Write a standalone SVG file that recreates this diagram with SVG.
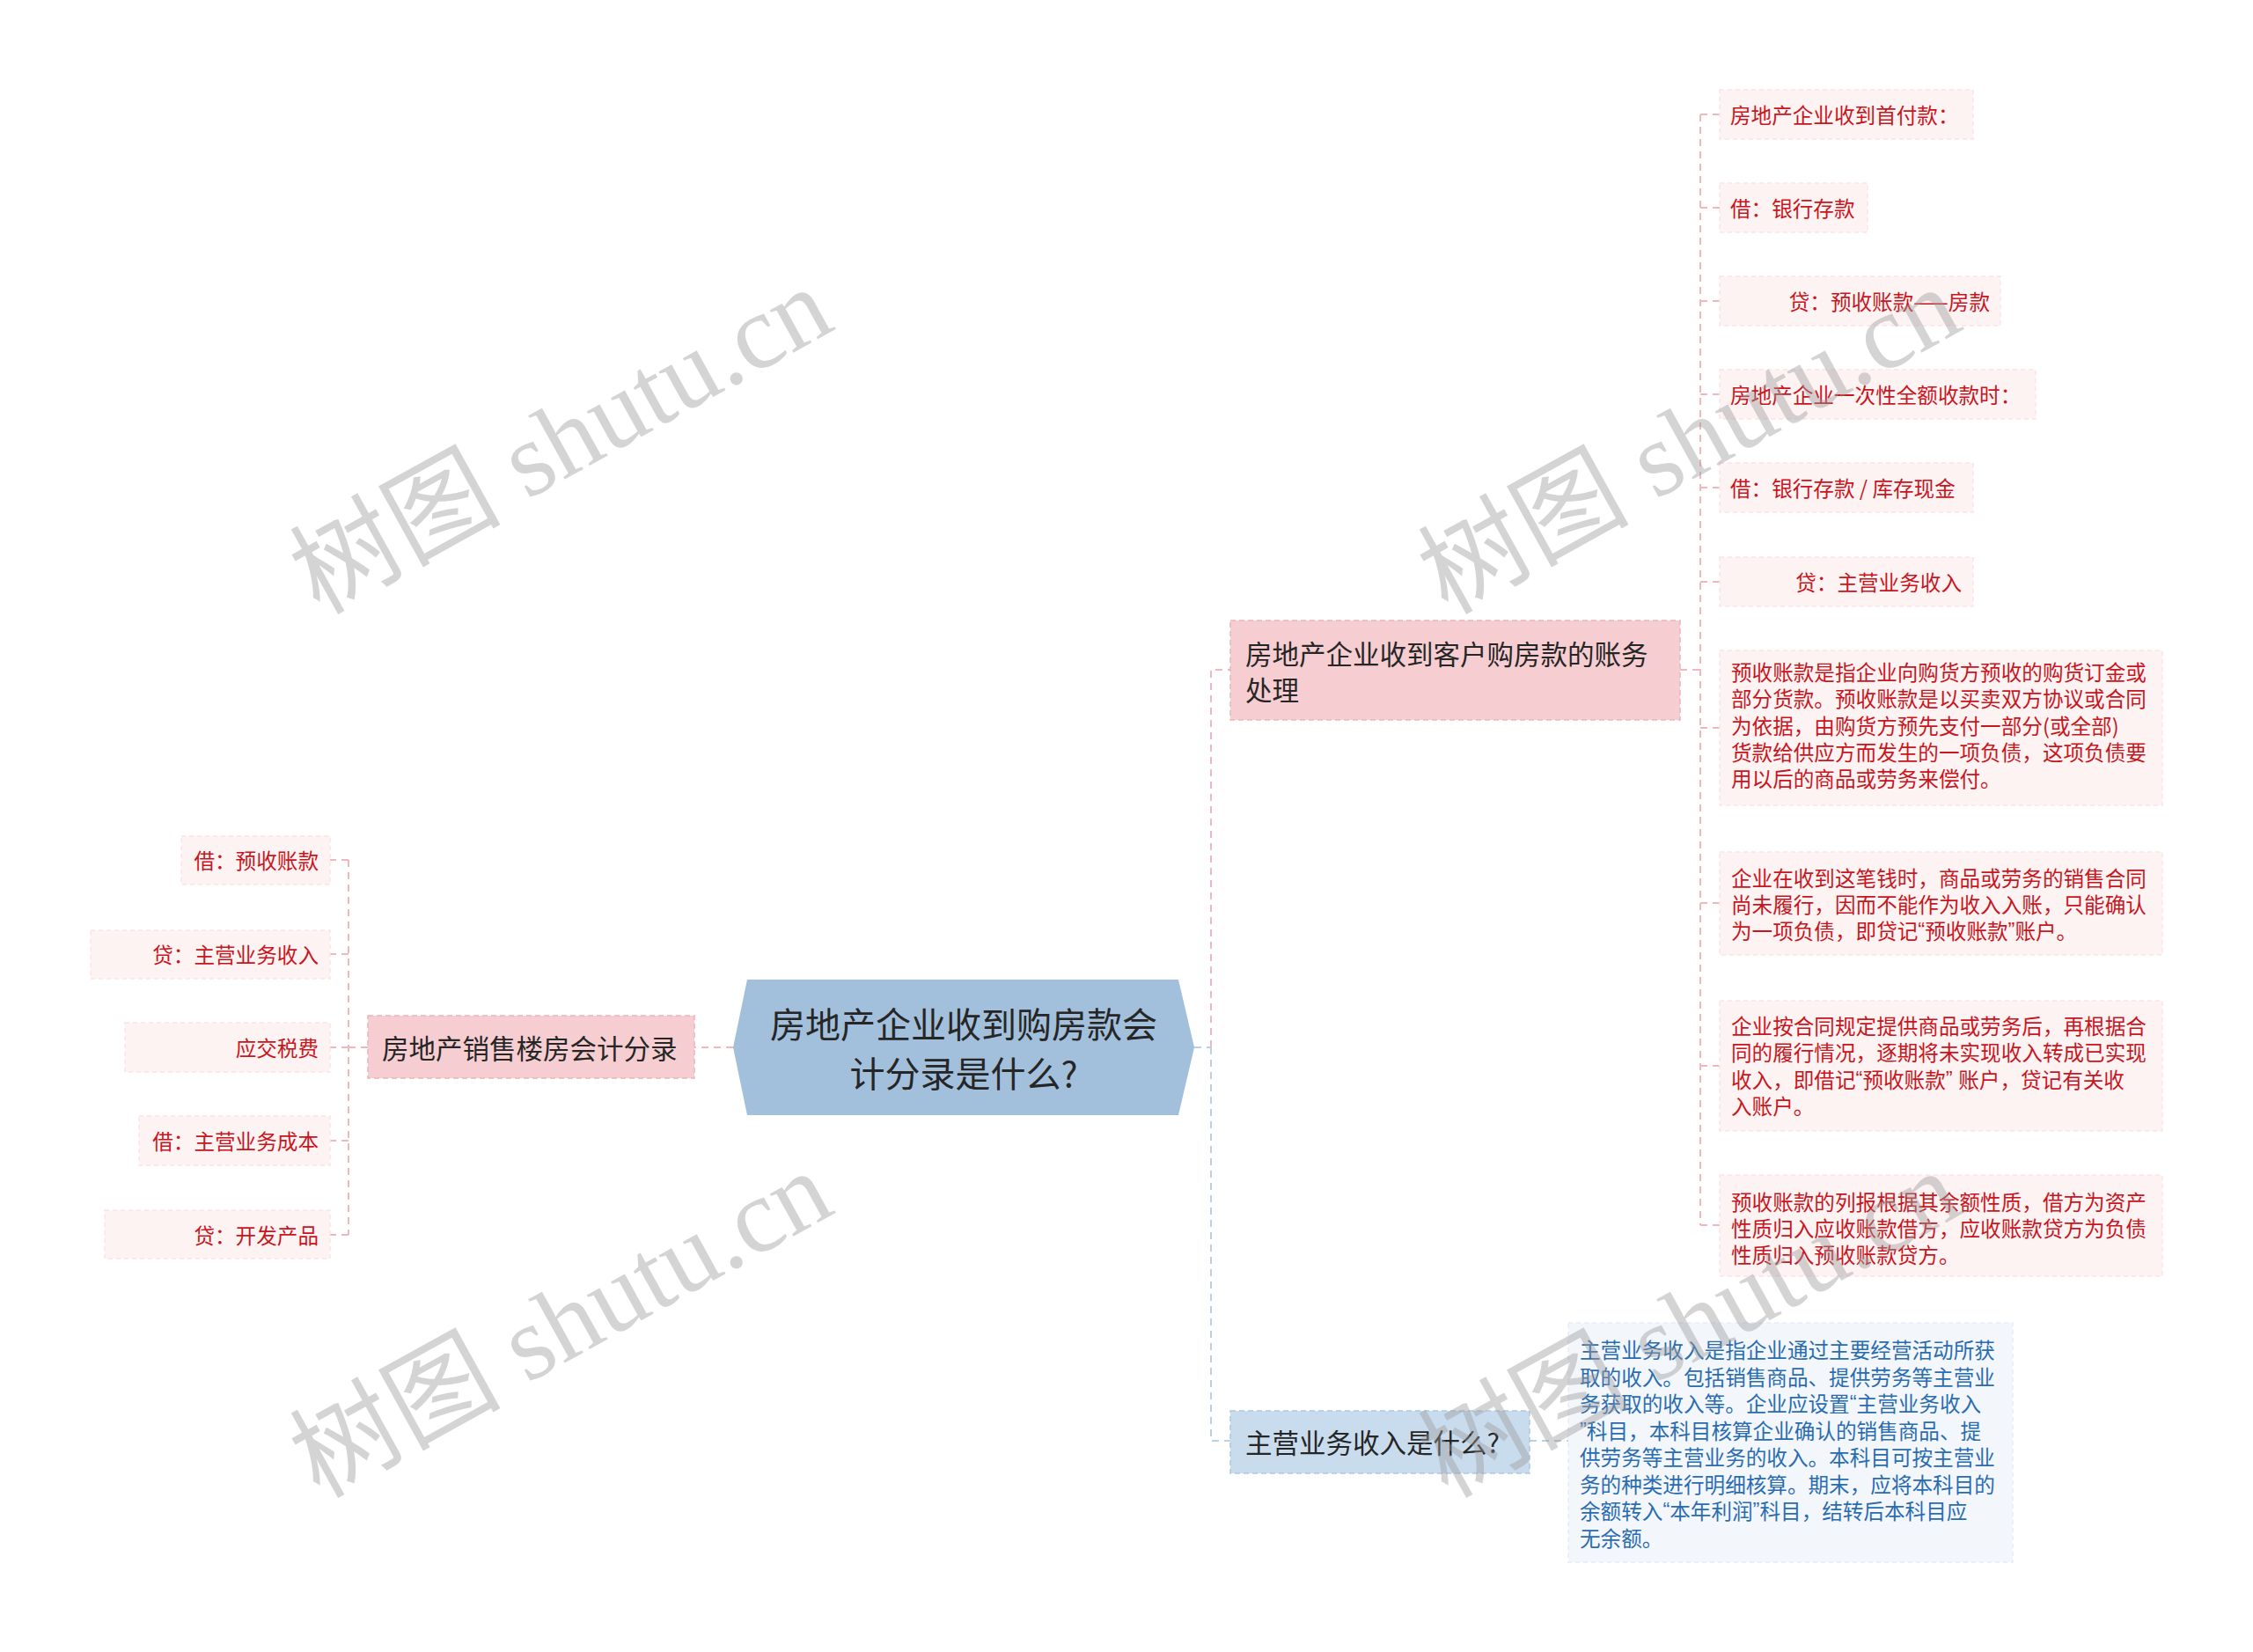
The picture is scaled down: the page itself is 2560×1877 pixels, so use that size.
<svg xmlns="http://www.w3.org/2000/svg" width="2560" height="1877" viewBox="0 0 2560 1877">
<style>
.t{font-family:"Noto Sans CJK SC","Noto Sans",sans-serif;dominant-baseline:central}
.q{font-family:"Liberation Sans","Noto Sans CJK SC",sans-serif}
.root-t{font-size:40px;fill:#262626}
.br-t{font-size:30.5px;fill:#262626}
.lr{font-size:23.6px;fill:#c8161e}
.lb{font-size:23.6px;fill:#2a6cb0}
.pinkbox{fill:#f6ced2;stroke:#eeb3b9;stroke-width:1.5;stroke-dasharray:6 4}
.bluebox{fill:#c9dcee;stroke:#afc8e0;stroke-width:1.5;stroke-dasharray:6 4}
.leafr{fill:#fdf3f3;stroke:#fbe5e6;stroke-width:1.5;stroke-dasharray:5 4}
.leafb{fill:#f3f7fc;stroke:#e4edf6;stroke-width:1.5;stroke-dasharray:5 4}
.cp{fill:none;stroke:#f1b7bc;stroke-width:2;stroke-dasharray:8 6}
.cb{fill:none;stroke:#bad0e6;stroke-width:2;stroke-dasharray:8 6}
.wm{font-family:"Liberation Serif","Noto Sans CJK SC",serif;font-size:120px;fill:#9a9a9a;opacity:0.42}
</style>
<rect x="0" y="0" width="2560" height="1877" fill="#ffffff"/>

<g id="connectors">
  <path class="cp" d="M833,1190 H789"/>
  <path class="cp" d="M418,1190 H396"/>
  <path class="cp" d="M396,977 V1403"/>
  <path class="cp" d="M396,977 H375 M396,1084 H375 M396,1190 H375 M396,1296 H375 M396,1403 H375"/>
  <path class="cb" d="M1357,1190 H1376"/>
  <path class="cp" d="M1376,1190 V761 H1398"/>
  <path class="cb" d="M1376,1190 V1637 H1398"/>
  <path class="cp" d="M1909,761 H1932"/>
  <path class="cp" d="M1932,130 V1392"/>
  <path class="cp" d="M1932,130 H1954 M1932,236 H1954 M1932,342 H1954 M1932,448 H1954 M1932,554 H1954 M1932,661 H1954 M1932,827 H1954 M1932,1026 H1954 M1932,1211 H1954 M1932,1392 H1954"/>
  <path class="cb" d="M1738,1637 H1782"/>
</g>

<g id="root">
  <polygon points="849,1113 1339,1113 1357,1190 1339,1267 849,1267 833,1190" fill="#a2bfdb"/>
  <text class="t root-t" x="1095" y="1162" text-anchor="middle">房地产企业收到购房款会</text>
  <text class="t root-t" x="1095" y="1218" text-anchor="middle">计分录是什么?</text>
</g>

<g id="branch-left">
  <rect class="pinkbox" x="418" y="1154" width="371" height="71"/>
  <text class="t br-t" x="434" y="1190">房地产销售楼房会计分录</text>
</g>

<g id="leaf-l1"><rect class="leafr" x="206" y="950" width="169" height="55"/><text class="t lr" x="362" y="977" text-anchor="end">借：预收账款</text></g>
<g id="leaf-l2"><rect class="leafr" x="103" y="1057" width="272" height="55"/><text class="t lr" x="362" y="1084" text-anchor="end">贷：主营业务收入</text></g>
<g id="leaf-l3"><rect class="leafr" x="142" y="1162" width="233" height="56"/><text class="t lr" x="362" y="1190" text-anchor="end">应交税费</text></g>
<g id="leaf-l4"><rect class="leafr" x="158" y="1268" width="217" height="56"/><text class="t lr" x="362" y="1296" text-anchor="end">借：主营业务成本</text></g>
<g id="leaf-l5"><rect class="leafr" x="119" y="1375" width="256" height="55"/><text class="t lr" x="362" y="1403" text-anchor="end">贷：开发产品</text></g>

<g id="branch-right-1">
  <rect class="pinkbox" x="1398" y="705" width="511" height="113"/>
  <text class="t br-t" x="1415" y="742">房地产企业收到客户购房款的账务</text>
  <text class="t br-t" x="1415" y="783">处理</text>
</g>

<g id="leaf-r1"><rect class="leafr" x="1954" y="102" width="288" height="56"/><text class="t lr" x="1966" y="130">房地产企业收到首付款：</text></g>
<g id="leaf-r2"><rect class="leafr" x="1954" y="208" width="168" height="56"/><text class="t lr" x="1966" y="236">借：银行存款</text></g>
<g id="leaf-r3"><rect class="leafr" x="1954" y="314" width="319" height="56"/><text class="t lr" x="2261" y="342" text-anchor="end">贷：预收账款——房款</text></g>
<g id="leaf-r4"><rect class="leafr" x="1954" y="420" width="359" height="56"/><text class="t lr" x="1966" y="448">房地产企业一次性全额收款时：</text></g>
<g id="leaf-r5"><rect class="leafr" x="1954" y="526" width="288" height="56"/><text class="t lr" x="1966" y="554">借：银行存款 / 库存现金</text></g>
<g id="leaf-r6"><rect class="leafr" x="1954" y="633" width="288" height="56"/><text class="t lr" x="2229" y="661" text-anchor="end">贷：主营业务收入</text></g>

<g id="leaf-r7">
  <rect class="leafr" x="1954" y="739" width="503" height="176"/>
  <text class="t lr" x="1967" y="763">预收账款是指企业向购货方预收的购货订金或</text>
  <text class="t lr" x="1967" y="793">部分货款。预收账款是以买卖双方协议或合同</text>
  <text class="t lr" x="1967" y="823.5">为依据，由购货方预先支付一部分(或全部)</text>
  <text class="t lr" x="1967" y="854">货款给供应方而发生的一项负债，这项负债要</text>
  <text class="t lr" x="1967" y="884">用以后的商品或劳务来偿付。</text>
</g>
<g id="leaf-r8">
  <rect class="leafr" x="1954" y="968" width="503" height="117"/>
  <text class="t lr" x="1967" y="997">企业在收到这笔钱时，商品或劳务的销售合同</text>
  <text class="t lr" x="1967" y="1027">尚未履行，因而不能作为收入入账，只能确认</text>
  <text class="t lr" x="1967" y="1057">为一项负债，即贷记<tspan class="q">“</tspan>预收账款<tspan class="q">”</tspan>账户。</text>
</g>
<g id="leaf-r9">
  <rect class="leafr" x="1954" y="1137" width="503" height="148"/>
  <text class="t lr" x="1967" y="1165">企业按合同规定提供商品或劳务后，再根据合</text>
  <text class="t lr" x="1967" y="1195">同的履行情况，逐期将未实现收入转成已实现</text>
  <text class="t lr" x="1967" y="1225.5">收入，即借记<tspan class="q">“</tspan>预收账款<tspan class="q">” </tspan>账户，贷记有关收</text>
  <text class="t lr" x="1967" y="1256">入账户。</text>
</g>
<g id="leaf-r10">
  <rect class="leafr" x="1954" y="1335" width="503" height="115"/>
  <text class="t lr" x="1967" y="1365">预收账款的列报根据其余额性质，借方为资产</text>
  <text class="t lr" x="1967" y="1395">性质归入应收账款借方，应收账款贷方为负债</text>
  <text class="t lr" x="1967" y="1425">性质归入预收账款贷方。</text>
</g>

<g id="branch-right-2">
  <rect class="bluebox" x="1398" y="1603" width="340" height="71"/>
  <text class="t br-t" x="1415" y="1638">主营业务收入是什么?</text>
</g>
<g id="leaf-b1">
  <rect class="leafb" x="1782" y="1503" width="505" height="272"/>
  <text class="t lb" x="1795" y="1533">主营业务收入是指企业通过主要经营活动所获</text>
  <text class="t lb" x="1795" y="1563.5">取的收入。包括销售商品、提供劳务等主营业</text>
  <text class="t lb" x="1795" y="1594">务获取的收入等。企业应设置<tspan class="q">“</tspan>主营业务收入</text>
  <text class="t lb" x="1795" y="1624.5"><tspan class="q">”</tspan>科目，本科目核算企业确认的销售商品、提</text>
  <text class="t lb" x="1795" y="1655">供劳务等主营业务的收入。本科目可按主营业</text>
  <text class="t lb" x="1795" y="1685.5">务的种类进行明细核算。期末，应将本科目的</text>
  <text class="t lb" x="1795" y="1716">余额转入<tspan class="q">“</tspan>本年利润<tspan class="q">”</tspan>科目，结转后本科目应</text>
  <text class="t lb" x="1795" y="1746.5">无余额。</text>
</g>

<g id="watermarks">
  <text class="wm" x="657" y="536" text-anchor="middle" transform="rotate(-29 657 536)">树图 shutu.cn</text>
  <text class="wm" x="1939" y="536" text-anchor="middle" transform="rotate(-29 1939 536)">树图 shutu.cn</text>
  <text class="wm" x="657" y="1540" text-anchor="middle" transform="rotate(-29 657 1540)">树图 shutu.cn</text>
  <text class="wm" x="1939" y="1540" text-anchor="middle" transform="rotate(-29 1939 1540)">树图 shutu.cn</text>
</g>
</svg>
